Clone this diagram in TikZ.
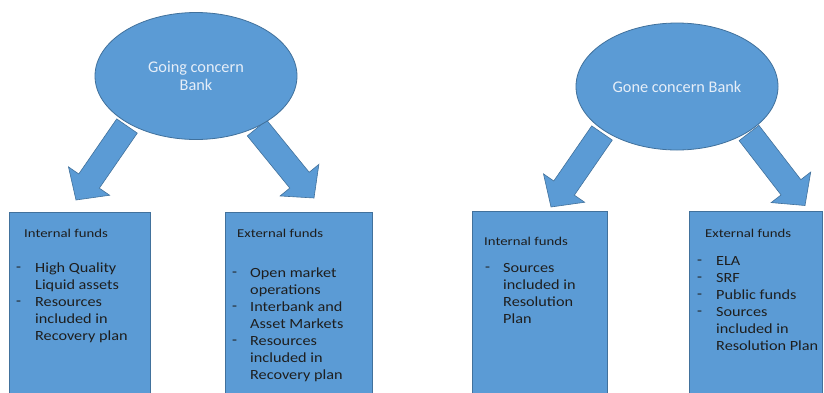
\documentclass[tikz,border=0pt]{standalone}
\usepackage{fontspec}
\setmainfont{Carlito}
\newfontfamily\hdfont[FakeStretch=1.23]{Carlito}
\newfontfamily\itfont[FakeStretch=1.16]{Carlito}
\usetikzlibrary{calc,shapes.geometric}
\definecolor{fillblue}{HTML}{5B9BD5}
\definecolor{edgeblue}{HTML}{41719C}
\definecolor{txt}{HTML}{1E1E1E}
\definecolor{lighttxt}{HTML}{E6EEF8}
\newcommand\blockarrow[2]{%
  \coordinate (#1B) at ($(#2)!23pt!(#1)$);
  \fill[fill=fillblue,draw=edgeblue,line width=0.6pt,line join=miter]
    ($(#1)!12.5pt!90:(#2)$) -- ($(#1B)!12.5pt!-90:(#1)$) -- ($(#1B)!25pt!-90:(#1)$) --
    (#2) -- ($(#1B)!25pt!90:(#1)$) -- ($(#1B)!12.5pt!90:(#1)$) -- ($(#1)!12.5pt!-90:(#2)$) -- cycle;}
\newcommand\lines[1]{\begin{tabular}[t]{@{}l@{}}#1\end{tabular}}
\begin{document}
\begin{tikzpicture}[x=1pt,y=1pt,
  shapebox/.style={fill=fillblue,draw=edgeblue,line width=0.8pt},
  fundbox/.style={shapebox,rectangle,anchor=north west,inner sep=0,minimum height=200},
  head/.style={anchor=base west,inner sep=0,font=\hdfont\fontsize{12}{14}\selectfont,text=txt},
  items/.style={anchor=base west,inner sep=0,font=\itfont\fontsize{14}{17}\selectfont,text=txt},
  dashmark/.style={anchor=base west,inner sep=0,font=\itfont\fontsize{14}{17}\selectfont,text=txt},
  bank/.style={ellipse,shapebox,minimum width=202,minimum height=127,inner sep=0,text=lighttxt,font=\fontsize{16.3}{18.5}\selectfont,align=center}]
\useasboundingbox (0,0) rectangle (824,-392);
\clip (0,0) rectangle (824,-392);
\fill[white] (0,0) rectangle (824,-392);
% arrows
\coordinate (s1) at (127,-126);  \coordinate (t1) at (76,-200);
\coordinate (s2) at (257,-128);  \coordinate (t2) at (314,-198);
\coordinate (s3) at (602,-133);  \coordinate (t3) at (551,-207);
\coordinate (s4) at (749,-133);  \coordinate (t4) at (805,-205.5);
\blockarrow{s1}{t1}
\blockarrow{s2}{t2}
\blockarrow{s3}{t3}
\blockarrow{s4}{t4}
% ellipses
\node[bank] (going) at (196,-76) {Going concern\\Bank};
\node[bank] (gone) at (677,-86.5) {Gone concern Bank};
% boxes
\node[fundbox,minimum width=141] (b1) at (9,-212) {};
\node[fundbox,minimum width=147] (b2) at (225,-212) {};
\node[fundbox,minimum width=135] (b3) at (472,-211) {};
\node[fundbox,minimum width=133] (b4) at (689,-211) {};
% box 1
\node[head] (h1) at (24,-237.5) {Internal funds};
\node[dashmark] (d11) at (16,-271) {-};
\node[items] (i11) at (35,-272.5) {\lines{High Quality\\Liquid assets}};
\node[dashmark] (d12) at (16,-305) {-};
\node[items] (i12) at (35,-306.5) {\lines{Resources\\included in\\Recovery plan}};
% box 2
\node[head] (h2) at (237,-237.5) {External funds};
\node[dashmark] (d21) at (232,-276) {-};
\node[items] (i21) at (250,-277.5) {\lines{Open market\\operations}};
\node[dashmark] (d22) at (232,-310) {-};
\node[items] (i22) at (250,-311.5) {\lines{Interbank and\\Asset Markets}};
\node[dashmark] (d23) at (232,-344) {-};
\node[items] (i23) at (250,-345.5) {\lines{Resources\\included in\\Recovery plan}};
% box 3
\node[head] (h3) at (484,-245.5) {Internal funds};
\node[dashmark] (d31) at (485,-271) {-};
\node[items] (i31) at (503,-272.5) {\lines{Sources\\included in\\Resolution\\Plan}};
% box 4
\node[head] (h4) at (705,-237.5) {External funds};
\node[dashmark] (d41) at (697,-264) {-};
\node[items] (i41) at (716,-265.5) {ELA};
\node[dashmark] (d42) at (697,-281) {-};
\node[items] (i42) at (716,-282.5) {SRF};
\node[dashmark] (d43) at (697,-298) {-};
\node[items] (i43) at (716,-299.5) {Public funds};
\node[dashmark] (d44) at (697,-315) {-};
\node[items] (i44) at (716,-316.5) {\lines{Sources\\included in\\Resolution Plan}};
\end{tikzpicture}
\end{document}
